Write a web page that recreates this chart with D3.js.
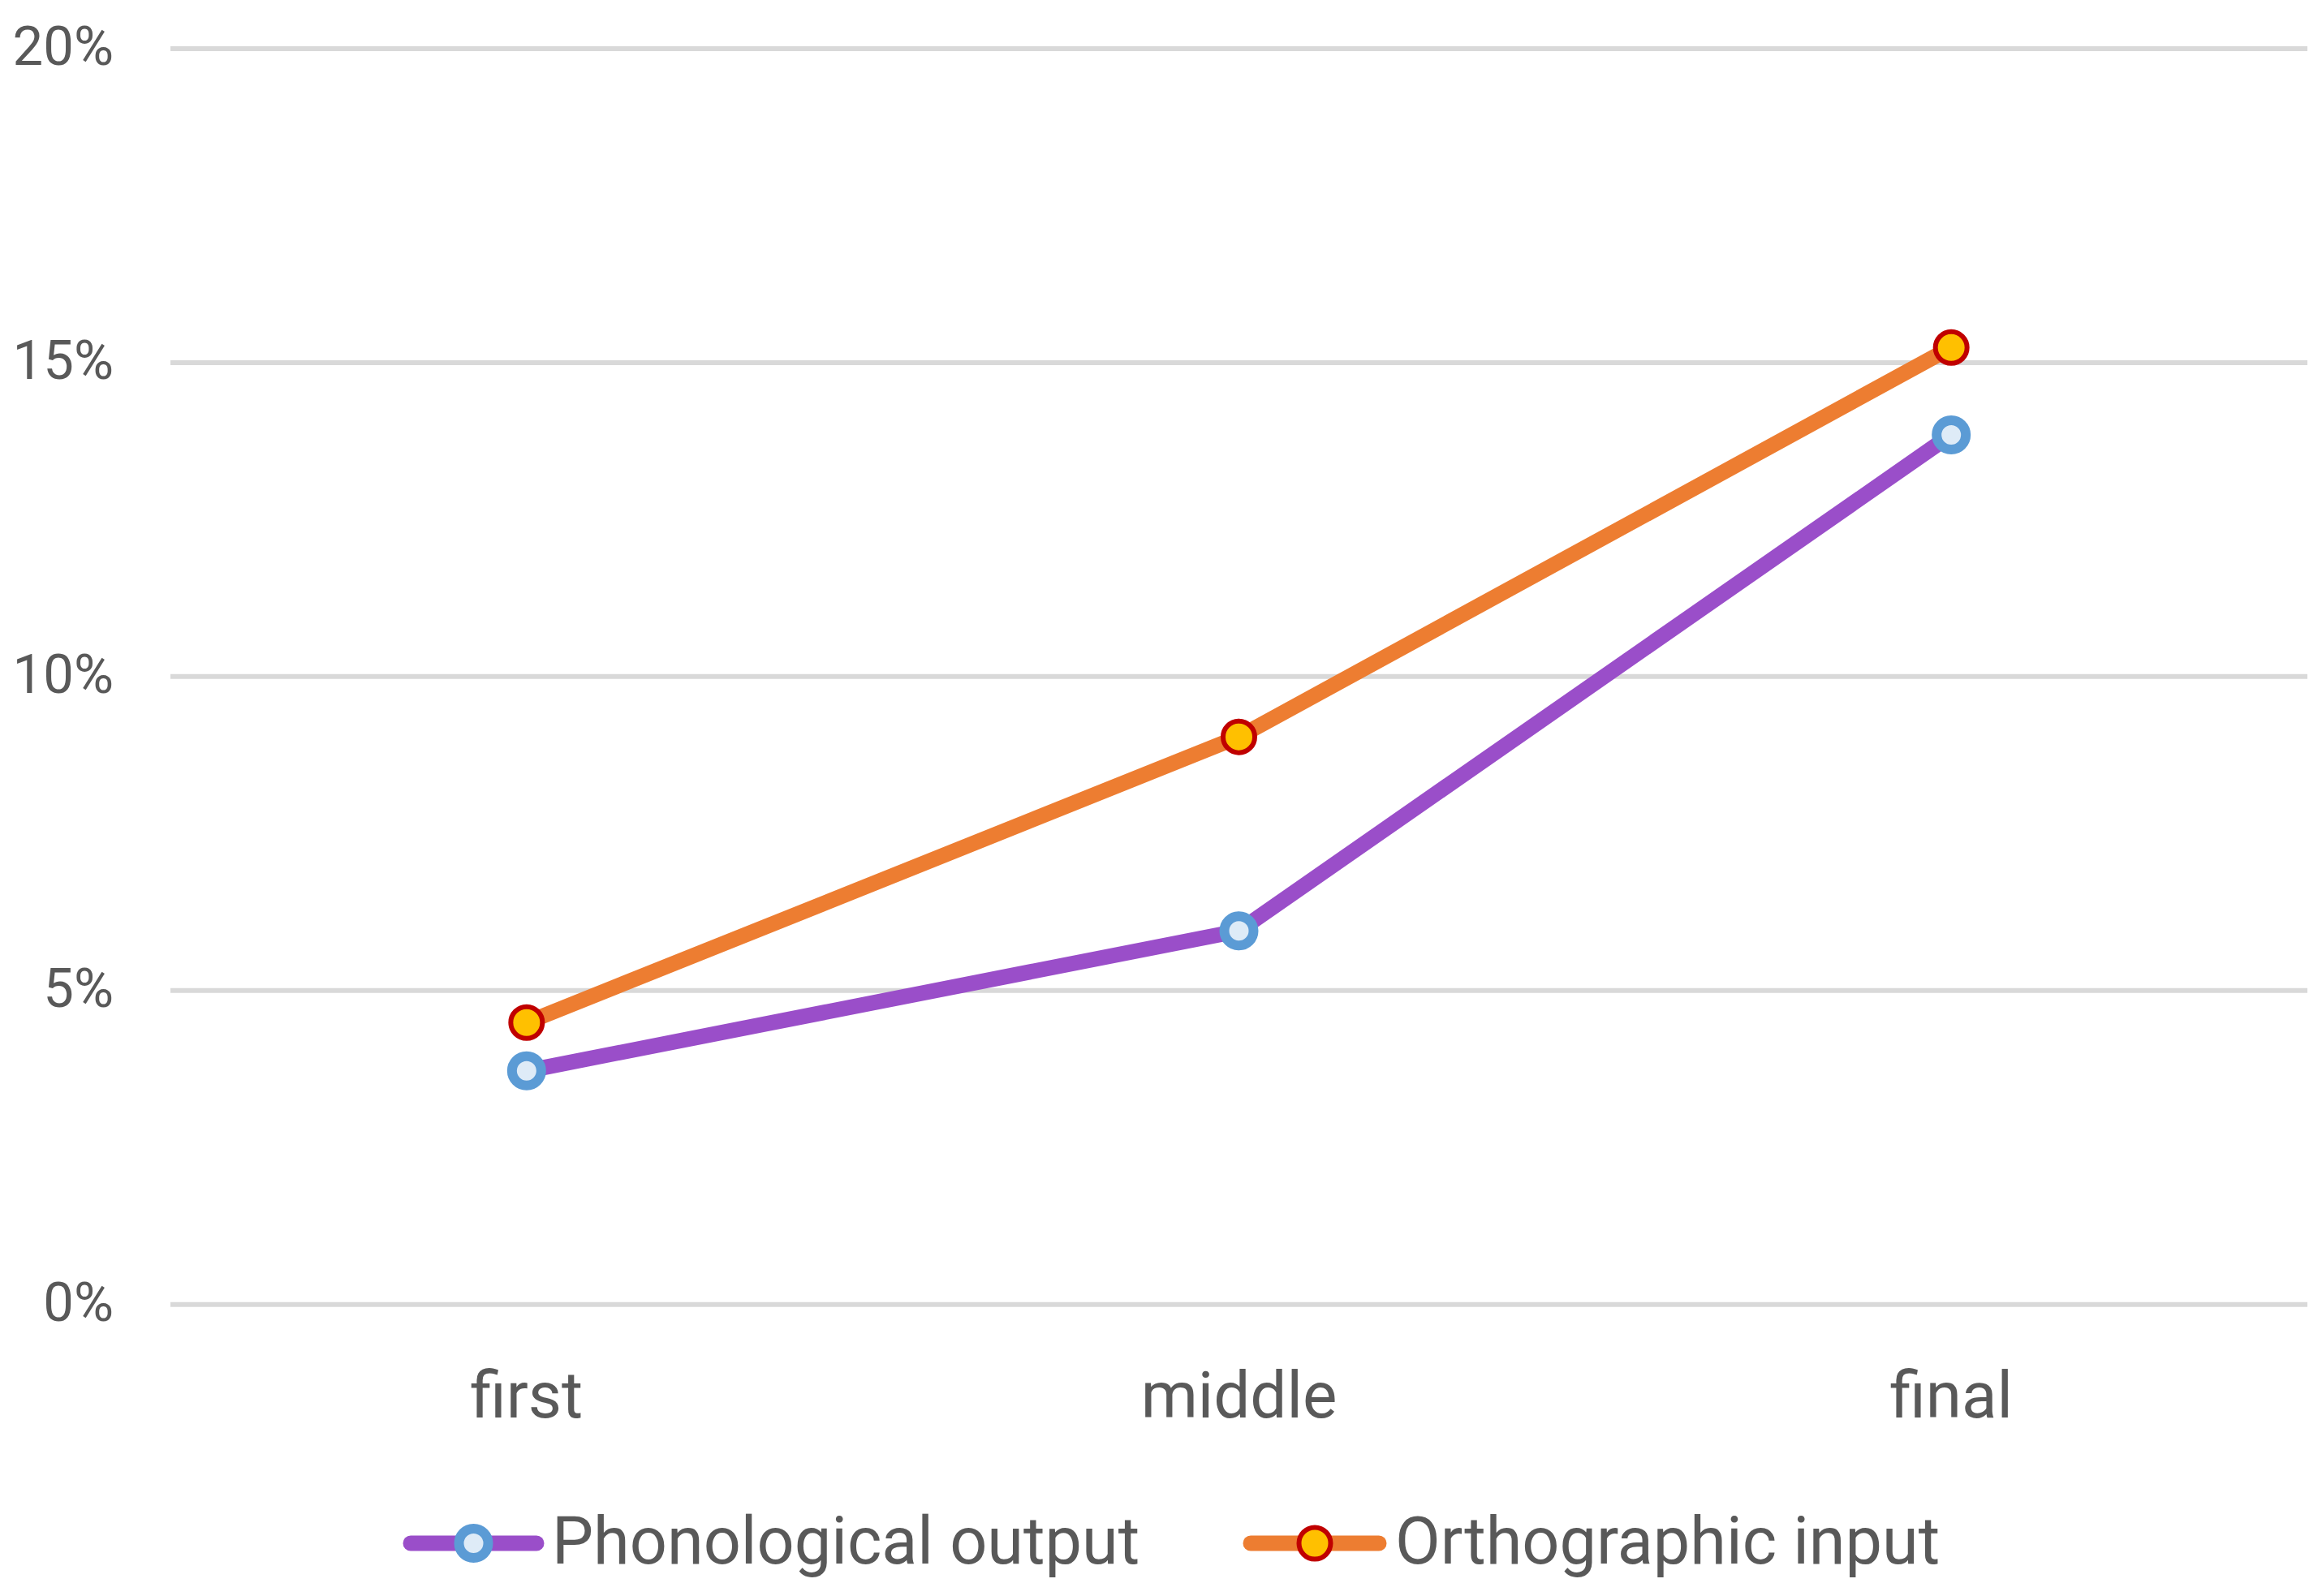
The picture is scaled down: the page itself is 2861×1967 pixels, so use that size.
<!DOCTYPE html>
<html>
<head>
<meta charset="utf-8">
<script src="https://cdn.jsdelivr.net/npm/d3@7"></script>
<style>
  html, body { margin: 0; padding: 0; background: #ffffff; }
  svg { display: block; }
  text { font-family: Roboto, "Open Sans", "Liberation Sans", sans-serif; fill: #595959; }
</style>
</head>
<body>
<svg id="chart" width="2861" height="1967"></svg>
<script>
const categories = ["first", "middle", "final"];
const phonological = [0.0372, 0.0595, 0.1385];
const orthographic = [0.0449, 0.0904, 0.1524];
const yTicks = [0, 0.05, 0.10, 0.15, 0.20];
const seriesNames = ["Phonological output", "Orthographic input"];

const svg = d3.select("#chart");
const plot = { left: 210, right: 2843, top: 60, bottom: 1607.7 };

const x = d3.scaleBand().domain(categories).range([plot.left, plot.right]).padding(0);
const y = d3.scaleLinear().domain([0, 0.2]).range([plot.bottom, plot.top]);
const cx = c => x(c) + x.bandwidth() / 2;

// gridlines
svg.append("g").selectAll("line").data(yTicks).join("line")
  .attr("x1", plot.left).attr("x2", plot.right)
  .attr("y1", d => y(d)).attr("y2", d => y(d))
  .attr("stroke", "#d9d9d9").attr("stroke-width", 6);

// y tick labels
svg.append("g").selectAll("text").data(yTicks).join("text")
  .attr("x", 140).attr("y", d => y(d) + 20)
  .attr("text-anchor", "end")
  .attr("font-size", 67)
  .text(d => d3.format(".0%")(d));

// x labels
svg.append("g").selectAll("text").data(categories).join("text")
  .attr("x", d => cx(d)).attr("y", 1747)
  .attr("text-anchor", "middle")
  .attr("font-size", 80)
  .text(d => d);

const series = [
  { name: seriesNames[0], values: phonological, line: "#9a4ec9", mFill: "#deebf7", mStroke: "#5b9bd5", r: 18, sw: 12 },
  { name: seriesNames[1], values: orthographic, line: "#ed7d31", mFill: "#ffc000", mStroke: "#c00000", r: 19.5, sw: 6 }
];

const lineGen = d3.line().x((d, i) => cx(categories[i])).y(d => y(d));

series.forEach(s => {
  svg.append("path").datum(s.values)
    .attr("d", lineGen)
    .attr("fill", "none")
    .attr("stroke", s.line)
    .attr("stroke-width", 19)
    .attr("stroke-linejoin", "round")
    .attr("stroke-linecap", "round");
});
series.forEach(s => {
  svg.append("g").selectAll("circle").data(s.values).join("circle")
    .attr("cx", (d, i) => cx(categories[i]))
    .attr("cy", d => y(d))
    .attr("r", s.r)
    .attr("fill", s.mFill)
    .attr("stroke", s.mStroke)
    .attr("stroke-width", s.sw);
});

// legend
const legendItems = [
  { s: series[0], x1: 506, x2: 661, text: 680 },
  { s: series[1], x1: 1541, x2: 1699, text: 1719 }
];
const ly = 1902;
legendItems.forEach(l => {
  svg.append("line")
    .attr("x1", l.x1).attr("x2", l.x2).attr("y1", ly).attr("y2", ly)
    .attr("stroke", l.s.line).attr("stroke-width", 19).attr("stroke-linecap", "round");
  svg.append("circle")
    .attr("cx", (l.x1 + l.x2) / 2).attr("cy", ly).attr("r", l.s.r)
    .attr("fill", l.s.mFill).attr("stroke", l.s.mStroke).attr("stroke-width", l.s.sw);
  svg.append("text")
    .attr("x", l.text).attr("y", 1927)
    .attr("font-size", 81)
    .text(l.s.name);
});
</script>
</body>
</html>
